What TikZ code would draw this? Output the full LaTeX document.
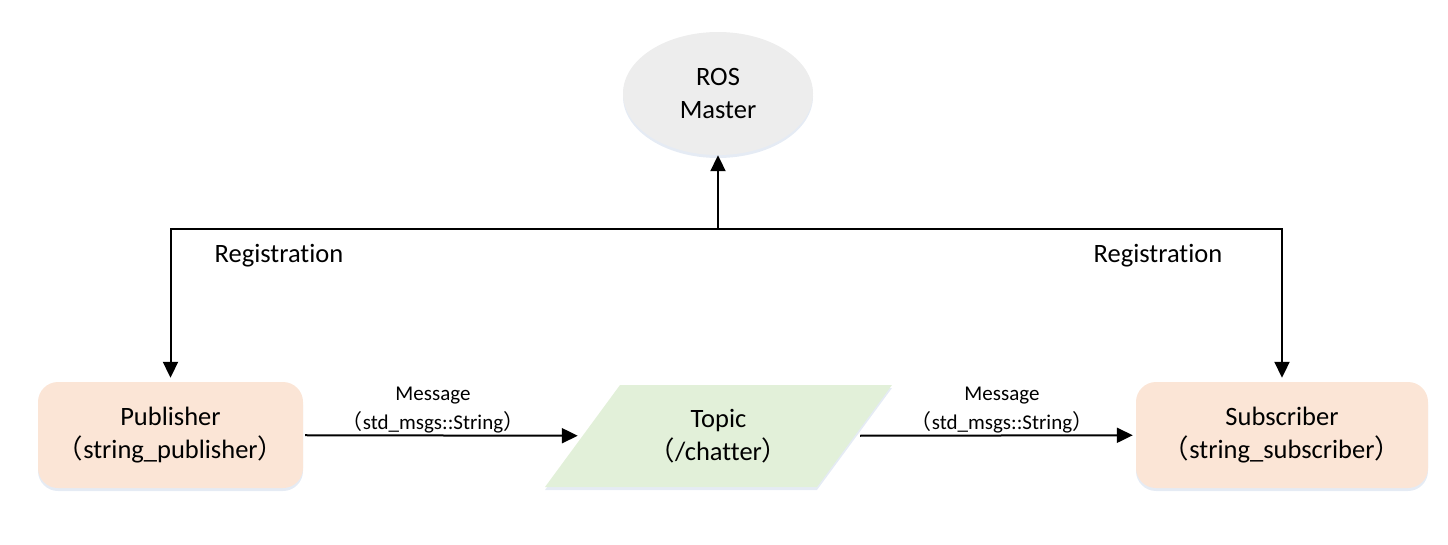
\documentclass[tikz,border=0pt]{standalone}
\usepackage{fontspec}
\setmainfont{Carlito}[Ligatures=NoCommon]
\newfontfamily\cjk{Noto Sans CJK SC}
\usetikzlibrary{arrows.meta,shapes.geometric,shadows}
\definecolor{nodepeach}{HTML}{FBE5D6}
\definecolor{topicgreen}{HTML}{E2F0D9}
\definecolor{mastergray}{HTML}{EDEDED}
\definecolor{haze}{HTML}{DAE3F0}
\newcommand{\opar}{{\cjk （}}
\newcommand{\cpar}{{\cjk ）}}

\begin{document}
\begin{tikzpicture}[x=1pt,y=-1pt,
	every node/.style={font=\fontsize{26.5}{33}\selectfont, align=center, inner sep=0pt},
	small/.style={font=\fontsize{21}{28.5}\selectfont},
	haze/.style={drop shadow={shadow xshift=0pt, shadow yshift=-3pt, fill=haze, opacity=0.7}},
	rosnode/.style={rounded corners=20pt, fill=nodepeach, minimum width=265pt, minimum height=106pt, haze},
	arr/.style={line width=2pt, -{Triangle[length=16pt,width=15pt]}}]
	\useasboundingbox (0,0) rectangle (1448,545);
	\node[ellipse, fill=mastergray, minimum width=190pt, minimum height=123pt, haze] (master) at (718,93.5) {ROS\\Master};
	\node[rosnode] (pub) at (170.5,435) {Publisher\\\opar string\_publisher\cpar};
	\node[rosnode, minimum width=292pt] (sub) at (1282,435) {Subscriber\\\opar string\_subscriber\cpar};
	% topic parallelogram
	\fill[topicgreen, haze] (545,487) -- (620,385) -- (892,385) -- (817,487) -- cycle;
	\node[minimum width=270pt, minimum height=102pt] (topic) at (718.5,436) {Topic\\\opar /chatter\cpar};
	\coordinate (reg) at (718,229);
	\draw[arr, shorten >=4pt] (reg) -| (pub);
	\draw[arr, shorten >=4pt] (reg) -| (sub);
	\draw[arr] (reg) -- (master);
	\draw[arr, shorten <=2pt, shorten >=5.5pt] (pub) -- (topic);
	\draw[arr, shorten <=6.5pt, shorten >=3pt] (topic) -- (sub);
	% labels
	\node[anchor=base] (regl) at (279,263) {Registration};
	\node[anchor=base] (regr) at (1158,263) {Registration};
	\node[small] (msgl) at (433,410) {Message\\\opar std\_msgs::String\cpar};
	\node[small] (msgr) at (1002,410) {Message\\\opar std\_msgs::String\cpar};
\end{tikzpicture}
\end{document}
